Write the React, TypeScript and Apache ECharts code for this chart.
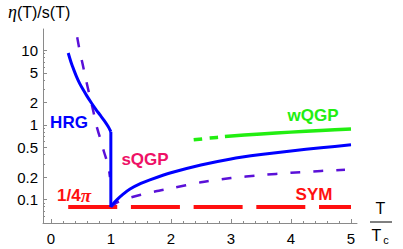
import React, { useEffect, useRef } from "react";
import * as echarts from "echarts";

// ---- data ----
const hrgLeft: [number, number][] = [
  [0.29, 9.2], [0.34, 6.8], [0.39, 5.3], [0.43, 4.4], [0.48, 3.6], [0.54, 2.95],
  [0.6, 2.45], [0.68, 1.95], [0.75, 1.62], [0.82, 1.36], [0.89, 1.14],
  [0.955, 0.95], [1.0, 0.81],
];
const hrgDrop: [number, number][] = [
  [1.0, 0.81], [1.0, 0.0796],
];
const sqgpSolid: [number, number][] = [
  [1.0, 0.0796], [1.03, 0.086], [1.1, 0.099], [1.2, 0.117], [1.32, 0.138],
  [1.5, 0.164], [1.65, 0.183], [2.0, 0.228], [2.5, 0.29], [3.0, 0.35],
  [3.5, 0.4], [4.0, 0.448], [4.5, 0.494], [5.0, 0.54],
];
const dashedLeft: [number, number][] = [
  [0.37, 30], [0.415, 19.3], [0.47, 11], [0.527, 6.7], [0.59, 3.9], [0.65, 2.4],
  [0.71, 1.5], [0.76, 0.98], [0.83, 0.63], [0.888, 0.43], [0.955, 0.29], [0.985, 0.2],
];
const dashedRight: [number, number][] = [
  [1.0, 0.0796], [1.1, 0.091], [1.25, 0.102], [1.5, 0.116], [1.75, 0.129],
  [2.0, 0.141], [2.5, 0.17], [3.0, 0.194], [3.5, 0.212], [4.0, 0.228],
  [4.5, 0.241], [4.9, 0.251],
];
const wqgpDashed: [number, number][] = [
  [2.38, 0.63], [2.65, 0.665], [2.9, 0.697],
];
const wqgpSolid: [number, number][] = [
  [2.9, 0.697], [3.5, 0.757], [4.0, 0.80], [4.5, 0.842], [5.0, 0.88],
];
const kssBound = 1 / (4 * Math.PI);
const kssLine: [number, number][] = [
  [0.29, kssBound], [5.0, kssBound],
];

const xTicks = [0, 1, 2, 3, 4, 5];
const xMinorTicks = [
  0.2, 0.4, 0.6, 0.8, 1.2, 1.4, 1.6, 1.8, 2.2, 2.4, 2.6, 2.8,
  3.2, 3.4, 3.6, 3.8, 4.2, 4.4, 4.6, 4.8,
];
const yTicks = [0.1, 0.2, 0.5, 1, 2, 5, 10];
const yMinorTicks = [
  0.06, 0.07, 0.08, 0.09, 0.3, 0.4, 0.6, 0.7, 0.8, 0.9, 3, 4, 6, 7, 8, 9,
];

const X_MIN = -0.13;
const X_MAX = 5.1;
const Y_MIN = 0.0484;
const Y_MAX = 19.3;

const SANS = '"Liberation Sans", Arial, sans-serif';
const SERIF = '"Liberation Serif", "Times New Roman", serif';

const BLUE = "#0000ff";
const PURPLE = "#5a10d8";
const GREEN = "#22ee11";
const RED = "#ff1010";
const PINK = "#ee1166";
const AXIS = "#8a8a8a";

export default function App() {
  const ref = useRef<HTMLDivElement>(null);

  useEffect(() => {
    if (!ref.current) return;
    const chart = echarts.init(ref.current, undefined, { renderer: "svg" });

    const baseX = {
      type: "value" as const,
      min: X_MIN,
      max: X_MAX,
      position: "bottom" as const,
      splitLine: { show: false },
    };
    const baseY = {
      type: "log" as const,
      logBase: 10,
      min: Y_MIN,
      max: Y_MAX,
      position: "left" as const,
      splitLine: { show: false },
    };

    const curve = (data: [number, number][], color: string, width: number, type: any, z: number, smooth: number | boolean = 0.25) => ({
      type: "line" as const,
      data,
      symbol: "none",
      smooth,
      clip: true,
      lineStyle: { color, width, type },
      z,
    });

    chart.setOption({
      animation: false,
      grid: { left: 43, right: 46, top: 29, bottom: 26, containLabel: false },
      xAxis: [
        {
          ...baseX,
          axisLine: { show: true, onZero: false, lineStyle: { color: AXIS, width: 1 } },
          axisTick: { show: true, inside: true, length: 4, customValues: xTicks, lineStyle: { color: AXIS } },
          axisLabel: {
            show: true,
            customValues: xTicks,
            color: "#000",
            fontFamily: SANS,
            fontSize: 15,
            margin: 8,
            formatter: (v: number) => String(Math.round(v)),
          },
        },
        {
          ...baseX,
          axisLine: { show: false, onZero: false },
          axisTick: { show: true, inside: true, length: 2, customValues: xMinorTicks, lineStyle: { color: AXIS } },
          axisLabel: { show: false },
        },
      ],
      yAxis: [
        {
          ...baseY,
          axisLine: { show: true, onZero: false, lineStyle: { color: AXIS, width: 1 } },
          axisTick: { show: true, inside: true, length: 4, customValues: yTicks, lineStyle: { color: AXIS } },
          axisLabel: {
            show: true,
            customValues: yTicks,
            color: "#000",
            fontFamily: SANS,
            fontSize: 15,
            margin: 5,
            formatter: (v: number) => String(+v.toPrecision(3)),
          },
        },
        {
          ...baseY,
          axisLine: { show: false, onZero: false },
          axisTick: { show: true, inside: true, length: 2, customValues: yMinorTicks, lineStyle: { color: AXIS } },
          axisLabel: { show: false },
        },
      ],
      series: [
        curve(kssLine, RED, 4, [49, 13.7], 2, false),
        curve(dashedLeft, PURPLE, 2.5, [10, 13], 3),
        curve(dashedRight, PURPLE, 2.5, [10, 13], 3),
        curve(wqgpDashed, GREEN, 3.5, [8.5, 7.5], 3),
        curve(wqgpSolid, GREEN, 3.5, "solid", 3),
        curve(hrgLeft, BLUE, 3, "solid", 4),
        curve(hrgDrop, BLUE, 3, "solid", 4, false),
        curve(sqgpSolid, BLUE, 3, "solid", 4),
      ],
      graphic: [
        {
          type: "text", left: 8, top: 3,
          style: {
            text: "{e|η}{n|(T)/s(T)}",
            rich: {
              e: { font: `italic 18px ${SERIF}`, fill: "#000" },
              n: { font: `16px ${SANS}`, fill: "#000" },
            },
          },
        },
        {
          type: "text", x: 69, y: 122,
          style: { text: "HRG", fill: BLUE, font: `bold 17px ${SANS}`, textAlign: "center", textVerticalAlign: "middle" },
        },
        {
          type: "text", x: 145, y: 159,
          style: { text: "sQGP", fill: PINK, font: `bold 17px ${SANS}`, textAlign: "center", textVerticalAlign: "middle" },
        },
        {
          type: "text", x: 313, y: 115.5,
          style: { text: "wQGP", fill: GREEN, font: `bold 17px ${SANS}`, textAlign: "center", textVerticalAlign: "middle" },
        },
        {
          type: "text", x: 314, y: 194,
          style: { text: "SYM", fill: RED, font: `bold 17px ${SANS}`, textAlign: "center", textVerticalAlign: "middle" },
        },
        {
          type: "text", left: 57, top: 186,
          style: {
            text: "{a|1/4}{b|π}",
            rich: {
              a: { font: `bold 17px ${SANS}`, fill: RED },
              b: { font: `bold italic 19px ${SERIF}`, fill: RED },
            },
          },
        },
        {
          type: "text", x: 380.5, y: 208,
          style: { text: "T", fill: "#000", font: `16px ${SANS}`, textAlign: "center", textVerticalAlign: "middle" },
        },
        {
          type: "line",
          shape: { x1: 370, y1: 222, x2: 392, y2: 222 },
          style: { stroke: "#000", lineWidth: 1 },
        },
        {
          type: "text", x: 376.5, y: 235,
          style: { text: "T", fill: "#000", font: `16px ${SANS}`, textAlign: "center", textVerticalAlign: "middle" },
        },
        {
          type: "text", x: 386, y: 240,
          style: { text: "c", fill: "#000", font: `11px ${SANS}`, textAlign: "center", textVerticalAlign: "middle" },
        },
      ],
    });

    return () => chart.dispose();
  }, []);

  return (
    <div
      ref={ref}
      style={{ position: "fixed", left: 0, top: 0, width: 403, height: 249, background: "#fff" }}
    />
  );
}
